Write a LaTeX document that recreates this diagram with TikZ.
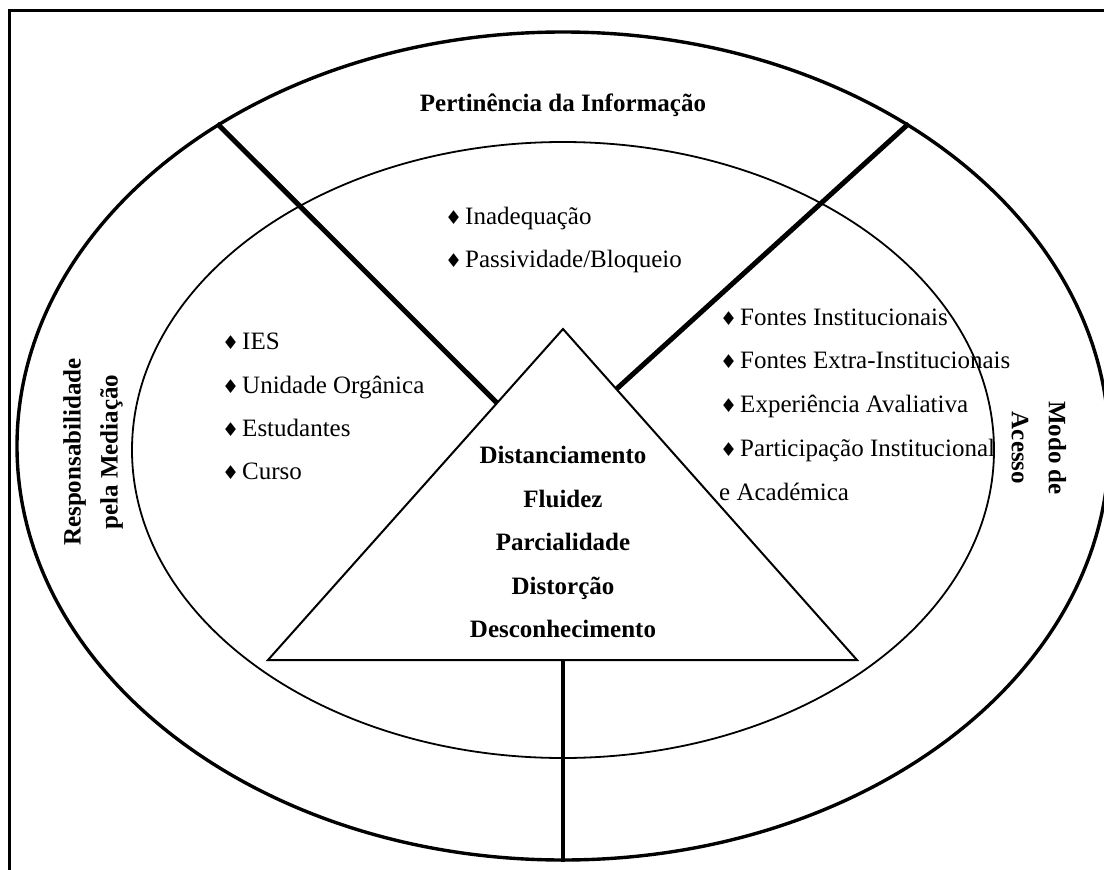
\documentclass[tikz,border=0pt]{standalone}
\usepackage{fontspec}
\setmainfont{Liberation Serif}
\newfontfamily\symfont{DejaVu Sans}
\usetikzlibrary{shapes.geometric}
\newcommand\dmd{{\symfont\fontsize{19}{19}\selectfont\char"2666}\hspace{3pt}}

\tikzset{
  frame/.style={line width=3pt},
  ring/.style={draw, ellipse, inner sep=0pt},
  divider/.style={line width=5pt},
  tri/.style={line width=2pt, line join=miter},
  stem/.style={line width=4pt},
  item/.style={anchor=base west, inner sep=0pt, font=\fontsize{25}{29}\selectfont},
  key/.style={anchor=base, inner sep=0pt, font=\fontsize{25}{29}\selectfont\bfseries},
  side/.style={inner sep=0pt, align=center, font=\fontsize{25}{37}\selectfont\bfseries}
}

\begin{document}
\begin{tikzpicture}[x=1pt,y=-1pt]
\clip (0,0) rectangle (1104,870);

% open frame
\draw[frame] (9,880) -- (9,10) -- (1120,10);

% the two rings
\node[ring, line width=3.4pt, minimum width=1092pt, minimum height=828pt] (outer) at (563,446) {};
\node[ring, line width=1.8pt, minimum width=862pt, minimum height=616pt] (inner) at (563,450) {};

% central triangle
\coordinate (apex) at (563,329);
\coordinate (bl) at (268,660);
\coordinate (br) at (857,660);
\coordinate (bm) at (563,660);
\draw[tri] (apex) -- (bl) -- (br) -- cycle;

% sector dividers
\coordinate (le) at (497,403);
\coordinate (re) at (616.5,389);
\draw[divider] (outer.137) -- (le);
\draw[divider] (outer.43) -- (re);
\draw[stem] (bm) -- (outer.south);

% sector titles
\node[key] (pert) at (563,111) {Pertinência da Informação};
\node[side, rotate=90] (resp) at (93,452) {Responsabilidade\\pela Mediação};
\node[side, rotate=-90] (modo) at (1039,448) {Modo de\\Acesso};

% top sector
\node[item] (t1) at (445,224) {\dmd Inadequação};
\node[item] (t2) at (445,267) {\dmd Passividade/Bloqueio};

% left sector
\node[item] (l1) at (222,349) {\dmd IES};
\node[item] (l2) at (222,393) {\dmd Unidade Orgânica};
\node[item] (l3) at (222,436) {\dmd Estudantes};
\node[item] (l4) at (222,479) {\dmd Curso};

% right sector
\node[item] (r1) at (720,325) {\dmd Fontes Institucionais};
\node[item] (r2) at (720,368) {\dmd Fontes Extra-Institucionais};
\node[item] (r3) at (720,412) {\dmd Experiência Avaliativa};
\node[item] (r4) at (720,456) {\dmd Participação Institucional};
\node[item] (r5) at (719,500) {e Académica};

% triangle contents
\node[key] (c1) at (563,463) {Distanciamento};
\node[key] (c2) at (563,507) {Fluidez};
\node[key] (c3) at (563,550) {Parcialidade};
\node[key] (c4) at (563,594) {Distorção};
\node[key] (c5) at (563,637) {Desconhecimento};
\end{tikzpicture}
\end{document}
